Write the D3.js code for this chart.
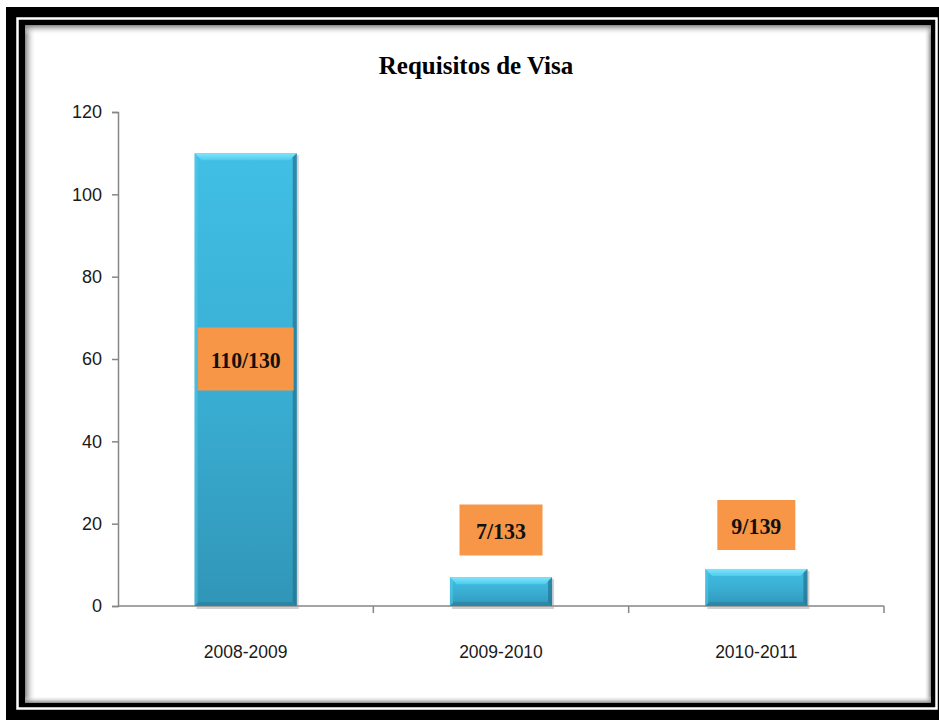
<!DOCTYPE html>
<html>
<head>
<meta charset="utf-8">
<script src="https://cdnjs.cloudflare.com/ajax/libs/d3/7.8.5/d3.min.js"></script>
<style>
    body { margin: 0; background: #fff; }
    svg { display: block; }
</style>
</head>
<body>
<div id="chart"></div>
<script>
// data
var categories = ["2008-2009", "2009-2010", "2010-2011"];
var values = [110, 7, 9];
var labels = ["110/130", "7/133", "9/139"];
var yTicks = [0, 20, 40, 60, 80, 100, 120];
var title = "Requisitos de Visa";

var W = 939, H = 720;
var svg = d3.select("#chart").append("svg")
    .attr("width", W)
    .attr("height", H);

var defs = svg.append("defs");

// frame: outer black, thin white line, inner black, white panel with inner shadow
svg.append("rect").attr("x", 6).attr("y", 7).attr("width", W - 6).attr("height", H - 7).attr("fill", "#000");
svg.append("rect").attr("x", 17.5).attr("y", 18.5).attr("width", 919).attr("height", 690)
    .attr("fill", "none").attr("stroke", "#fff").attr("stroke-width", 2.5);
svg.append("rect").attr("x", 25).attr("y", 25).attr("width", 906).attr("height", 678).attr("fill", "#fff");

function shadowGrad(id, x1, y1, x2, y2) {
    var g = defs.append("linearGradient").attr("id", id)
        .attr("x1", x1).attr("y1", y1).attr("x2", x2).attr("y2", y2);
    g.append("stop").attr("offset", "0%").attr("stop-color", "#777").attr("stop-opacity", 0.9);
    g.append("stop").attr("offset", "100%").attr("stop-color", "#fff").attr("stop-opacity", 0);
}
shadowGrad("shL", 0, 0, 1, 0);
shadowGrad("shR", 1, 0, 0, 0);
shadowGrad("shT", 0, 0, 0, 1);
shadowGrad("shB", 0, 1, 0, 0);
svg.append("rect").attr("x", 25).attr("y", 25).attr("width", 11).attr("height", 678).attr("fill", "url(#shL)");
svg.append("rect").attr("x", 924).attr("y", 25).attr("width", 7).attr("height", 678).attr("fill", "url(#shR)");
svg.append("rect").attr("x", 25).attr("y", 25).attr("width", 906).attr("height", 10).attr("fill", "url(#shT)");
svg.append("rect").attr("x", 25).attr("y", 696).attr("width", 906).attr("height", 7).attr("fill", "url(#shB)");

// plot area
var margin = { left: 118, right: 884, top: 112, bottom: 606 };

var x = d3.scaleBand()
    .domain(categories)
    .range([margin.left, margin.right])
    .paddingInner(0.6)
    .paddingOuter(0.3);

var xBand = d3.scaleBand()
    .domain(categories)
    .range([margin.left, margin.right]);

var y = d3.scaleLinear()
    .domain([0, 120])
    .range([margin.bottom, margin.top]);

// title
svg.append("text")
    .attr("x", 476)
    .attr("y", 74)
    .attr("text-anchor", "middle")
    .style("font-family", "'Liberation Serif', 'DejaVu Serif', serif")
    .style("font-weight", "bold")
    .style("font-size", "25px")
    .attr("fill", "#000")
    .text(title);

// y axis
var yAxis = svg.append("g")
    .attr("transform", "translate(" + margin.left + ",0)")
    .call(d3.axisLeft(y).tickValues(yTicks).tickSize(6).tickPadding(10));
yAxis.select(".domain").attr("stroke", "#868686").attr("stroke-width", 1.5);
yAxis.selectAll(".tick line").attr("stroke", "#868686").attr("stroke-width", 1.5);
yAxis.selectAll(".tick text")
    .style("font-family", "'Liberation Sans', Arial, sans-serif")
    .style("font-size", "18px")
    .attr("fill", "#1a1a1a");

// x axis with ticks at category boundaries
var xAxisG = svg.append("g");
xAxisG.append("line")
    .attr("x1", margin.left).attr("x2", margin.right)
    .attr("y1", y(0)).attr("y2", y(0))
    .attr("stroke", "#868686").attr("stroke-width", 1.5);
var bounds = categories.map(function (c) { return xBand(c) + xBand.bandwidth(); });
xAxisG.selectAll("line.xtick")
    .data(bounds)
    .enter().append("line")
    .attr("class", "xtick")
    .attr("x1", function (d) { return d; })
    .attr("x2", function (d) { return d; })
    .attr("y1", y(0)).attr("y2", y(0) + 7)
    .attr("stroke", "#868686").attr("stroke-width", 1.5);
xAxisG.selectAll("text")
    .data(categories)
    .enter().append("text")
    .attr("x", function (d) { return xBand(d) + xBand.bandwidth() / 2; })
    .attr("y", y(0) + 52)
    .attr("text-anchor", "middle")
    .style("font-family", "'Liberation Sans', Arial, sans-serif")
    .style("font-size", "17.5px")
    .attr("fill", "#1a1a1a")
    .text(function (d) { return d; });

// bar gradients
var bg = defs.append("linearGradient").attr("id", "barFill")
    .attr("x1", 0).attr("y1", 0).attr("x2", 0).attr("y2", 1);
bg.append("stop").attr("offset", "0%").attr("stop-color", "#41BFE5");
bg.append("stop").attr("offset", "55%").attr("stop-color", "#39ADD1");
bg.append("stop").attr("offset", "100%").attr("stop-color", "#3196B8");

var topG = defs.append("linearGradient").attr("id", "topFill")
    .attr("x1", 0).attr("y1", 0).attr("x2", 0).attr("y2", 1);
topG.append("stop").attr("offset", "0%").attr("stop-color", "#7FE6FA");
topG.append("stop").attr("offset", "100%").attr("stop-color", "#4FCBEE");

var bw = x.bandwidth();
var bevel = 7;

var bars = svg.append("g").selectAll("g")
    .data(categories)
    .enter().append("g");

// soft shadow under/right of the bar
bars.append("rect")
    .attr("x", function (d) { return x(d) + 2; })
    .attr("y", function (d, i) { return y(values[i]) + 2; })
    .attr("width", bw)
    .attr("height", function (d, i) { return y(0) - y(values[i]) + 1; })
    .attr("fill", "#999")
    .attr("opacity", 0.45);

bars.append("rect")
    .attr("x", function (d) { return x(d); })
    .attr("y", function (d, i) { return y(values[i]); })
    .attr("width", bw)
    .attr("height", function (d, i) { return y(0) - y(values[i]); })
    .attr("fill", "url(#barFill)");

// top bevel (light)
bars.append("path")
    .attr("d", function (d, i) {
        var x0 = x(d), x1 = x(d) + bw, t = y(values[i]);
        var b = Math.min(bevel, (y(0) - t) / 2);
        return "M" + x0 + "," + t + "L" + x1 + "," + t + "L" + (x1 - b) + "," + (t + b) + "L" + (x0 + b) + "," + (t + b) + "Z";
    })
    .attr("fill", "url(#topFill)");

// right bevel (dark)
bars.append("path")
    .attr("d", function (d, i) {
        var x1 = x(d) + bw, t = y(values[i]), btm = y(0);
        var b = Math.min(4, (btm - t) / 2);
        return "M" + x1 + "," + t + "L" + x1 + "," + btm + "L" + (x1 - b) + "," + (btm - b) + "L" + (x1 - b) + "," + (t + b) + "Z";
    })
    .attr("fill", "#23738E")
    .attr("opacity", 0.7);

// bottom bevel (dark)
bars.append("path")
    .attr("d", function (d, i) {
        var x0 = x(d), x1 = x(d) + bw, t = y(values[i]), btm = y(0);
        var b = Math.min(4, (btm - t) / 2);
        return "M" + x0 + "," + btm + "L" + x1 + "," + btm + "L" + (x1 - b) + "," + (btm - b) + "L" + (x0 + b) + "," + (btm - b) + "Z";
    })
    .attr("fill", "#23738E")
    .attr("opacity", 0.45);

// left bevel (slightly lighter)
bars.append("path")
    .attr("d", function (d, i) {
        var x0 = x(d), t = y(values[i]), btm = y(0);
        var b = Math.min(3, (btm - t) / 2);
        return "M" + x0 + "," + t + "L" + (x0 + b) + "," + (t + b) + "L" + (x0 + b) + "," + (btm - b) + "L" + x0 + "," + btm + "Z";
    })
    .attr("fill", "#55CBEE")
    .attr("opacity", 0.5);

// data labels (orange boxes)
var labelPos = [
    { cy: 359, w: 96, h: 63 },
    { cy: 530, w: 83, h: 51 },
    { cy: 525, w: 78, h: 50 }
];
var lab = svg.append("g").selectAll("g")
    .data(categories)
    .enter().append("g");

lab.append("rect")
    .attr("x", function (d, i) { return x(d) + bw / 2 - labelPos[i].w / 2; })
    .attr("y", function (d, i) { return labelPos[i].cy - labelPos[i].h / 2; })
    .attr("width", function (d, i) { return labelPos[i].w; })
    .attr("height", function (d, i) { return labelPos[i].h; })
    .attr("fill", "#F79646");

lab.append("text")
    .attr("x", function (d) { return x(d) + bw / 2; })
    .attr("y", function (d, i) { return labelPos[i].cy + 9; })
    .attr("text-anchor", "middle")
    .style("font-family", "'Liberation Serif', 'DejaVu Serif', serif")
    .style("font-weight", "bold")
    .style("font-size", "24px")
    .attr("textLength", function (d, i) { return labels[i].length * 10; })
    .attr("lengthAdjust", "spacingAndGlyphs")
    .attr("fill", "#111")
    .text(function (d, i) { return labels[i]; });
</script>
</body>
</html>
